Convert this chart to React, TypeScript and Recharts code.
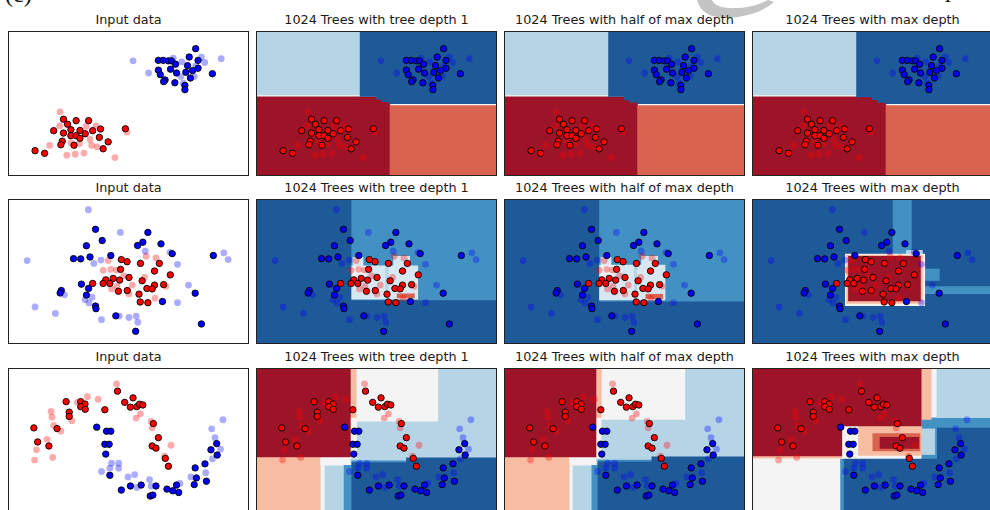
import React from "react";
import { ScatterChart, Scatter, XAxis, YAxis, ReferenceArea } from "recharts";

type Pt = [number, number];
// x1, x2, y1, y2, predicted probability of the red class
type Region = [number, number, number, number, number];

const columnTitles = [
  "Input data",
  "1024 Trees with tree depth 1",
  "1024 Trees with half of max depth",
  "1024 Trees with max depth",
];

// ---- blobs ----
const blobsRedTrain: Pt[] = [
  [22.8, 23.4], [28.1, 22.8], [33.3, 22.8], [24.5, 21.3], [18.7, 18.6], [25.9, 19.0],
  [22.8, 17.6], [29.7, 18.7], [31.9, 17.3], [35.0, 18.6], [38.3, 19.3], [48.7, 19.4],
  [25.9, 16.5], [28.1, 16.5], [29.7, 15.4], [37.8, 15.8], [22.3, 14.2], [21.7, 12.7],
  [27.2, 12.5], [41.5, 13.9], [39.4, 11.0], [10.9, 10.2], [14.9, 9.1],
];
const blobsRedTest: Pt[] = [
  [21.4, 26.5], [21.2, 20.6], [17.0, 12.4], [24.2, 8.3], [27.7, 8.7], [31.4, 9.2],
  [36.4, 20.6], [32.2, 20.4], [36.9, 11.8], [34.6, 12.4], [44.3, 7.3], [49.4, 18.0],
  [29.5, 13.2], [33.9, 14.9], [25.9, 13.5],
];
const blobsBlueTrain: Pt[] = [
  [78.1, 53.0], [75.4, 49.5], [79.1, 48.1], [62.5, 48.1], [64.5, 48.1], [66.7, 47.9],
  [68.0, 47.9], [69.7, 46.5], [67.6, 44.4], [62.5, 44.0], [63.3, 42.1], [65.3, 39.9],
  [64.7, 39.2], [70.1, 42.8], [69.4, 38.7], [74.7, 45.9], [74.0, 43.1], [76.8, 43.8],
  [79.1, 44.8], [75.9, 40.7], [85.1, 42.5], [73.6, 37.6], [73.6, 35.8],
];
const blobsBlueTest: Pt[] = [
  [51.9, 47.9], [58.4, 42.8], [68.7, 49.0], [72.3, 47.5], [80.5, 49.5], [81.9, 47.2],
  [88.8, 48.8], [78.1, 45.8], [72.9, 38.5], [71.9, 41.3], [77.5, 41.3],
];

// ---- circles ----
const circlesRedTrain: Pt[] = [
  [47.0, 35.0], [49.4, 34.1], [55.0, 33.4], [62.9, 33.4], [46.7, 30.9], [60.9, 30.2],
  [67.5, 28.6], [50.2, 27.5], [43.6, 27.1], [46.3, 26.4], [40.5, 26.5], [35.0, 25.0],
  [39.4, 25.0], [42.2, 25.0], [55.7, 26.1], [64.7, 24.5], [60.9, 24.3], [57.7, 22.9],
  [59.9, 22.7], [45.8, 21.7], [49.5, 22.0], [54.4, 20.5], [54.9, 17.2], [58.1, 16.9],
];
const circlesRedTest: Pt[] = [
  [41.5, 34.6], [57.4, 36.4], [61.5, 35.7], [39.4, 30.5], [42.6, 30.9], [45.0, 30.6],
  [48.0, 28.2], [56.7, 27.5], [65.7, 23.8], [45.2, 23.8], [50.2, 20.6], [61.1, 18.8],
  [51.6, 24.3], [42.9, 22.7],
];
const circlesBlueTrain: Pt[] = [
  [36.2, 47.7], [58.1, 46.4], [39.0, 43.0], [56.0, 42.3], [63.6, 41.6], [53.8, 40.9],
  [32.4, 40.8], [33.9, 36.1], [27.0, 35.4], [30.0, 35.3], [42.6, 36.7], [68.3, 37.5],
  [85.5, 36.7], [30.3, 24.7], [33.3, 22.9], [21.9, 22.0], [21.4, 21.0], [32.4, 20.1],
  [36.2, 15.5], [36.4, 14.4], [44.7, 11.4], [64.2, 17.4], [77.9, 20.9], [80.5, 8.0],
  [53.0, 4.9],
];
const circlesBlueTest: Pt[] = [
  [33.2, 55.9], [46.6, 46.4], [57.0, 38.5], [67.4, 38.0], [70.5, 33.0], [89.9, 37.8],
  [91.7, 35.0], [7.6, 34.6], [38.5, 34.8], [35.5, 33.4], [75.1, 24.3], [70.5, 16.9],
  [23.2, 20.2], [31.8, 18.1], [33.5, 16.8], [34.7, 19.2], [10.9, 15.1], [19.4, 12.4],
  [38.7, 9.8], [50.2, 10.7], [53.2, 11.3], [53.9, 8.7], [46.1, 11.3],
];

// ---- moons ----
const moonsRedTrain: Pt[] = [
  [10.4, 35.3], [12.0, 29.4], [16.7, 27.7], [20.1, 35.0], [23.9, 46.3], [25.2, 41.9],
  [25.2, 40.1], [30.0, 46.3], [31.8, 45.3], [30.0, 44.2], [31.9, 43.1], [40.1, 42.9],
  [45.4, 50.7], [48.4, 46.0], [50.8, 44.0], [51.9, 47.9], [53.5, 44.2], [54.6, 45.2],
  [56.0, 44.9], [60.4, 37.1], [62.5, 31.2], [59.9, 27.7], [61.5, 26.8], [65.4, 22.5],
  [66.7, 19.2],
];
const moonsRedTest: Pt[] = [
  [45.0, 53.8], [32.8, 48.4], [37.3, 47.3], [28.6, 46.0], [17.6, 42.2], [18.0, 39.8],
  [26.3, 38.3], [18.7, 36.3], [21.7, 33.9], [15.9, 30.5], [11.5, 26.1], [18.3, 22.9],
  [10.7, 21.8], [53.2, 39.4], [55.0, 41.2], [59.5, 38.0], [59.9, 35.3], [67.8, 28.0],
  [65.1, 23.4],
];
const moonsBlueTrain: Pt[] = [
  [36.7, 35.6], [40.8, 33.9], [42.6, 33.9], [40.1, 28.4], [41.9, 28.4], [40.5, 24.3],
  [42.2, 15.4], [47.0, 9.2], [50.8, 10.9], [55.3, 11.3], [59.1, 6.7], [60.2, 7.1],
  [61.5, 10.9], [66.1, 9.6], [68.5, 8.9], [71.0, 8.2], [70.1, 11.3], [77.5, 11.5],
  [78.4, 14.3], [77.9, 18.5], [82.0, 20.2], [82.6, 12.9], [84.5, 26.1], [87.1, 23.9],
  [86.9, 28.7],
];
const moonsBlueTest: Pt[] = [
  [89.5, 38.7], [84.8, 34.9], [86.2, 31.2], [88.5, 26.4], [85.1, 22.3], [82.3, 16.5],
  [76.1, 14.7], [71.5, 12.0], [59.5, 10.9], [53.5, 10.3], [49.8, 14.7], [52.6, 15.7],
  [42.9, 20.5], [45.9, 20.5], [42.2, 18.4], [45.9, 18.4], [38.7, 17.0], [58.8, 13.6],
];

// ---- decision regions (drawn in order, later on top) ----
const blobsDepth1Regions: Region[] = [
  [0, 100, 0, 60, 0.55],
  [0, 55.7, 0, 32.9, 0.95],
  [55.5, 100, 0, 29.3, 0.8],
  [0, 43.5, 33.5, 60, 0.35],
  [43, 100, 32.8, 60, 0.05],
  [50, 100, 31.6, 60, 0.05],
  [52.2, 100, 30.6, 60, 0.05],
  [55, 100, 29.8, 60, 0.05],
];
const blobsHalfRegions: Region[] = [
  [0, 100, 0, 60, 0.55],
  [0, 55.6, 0, 32.9, 0.95],
  [55.4, 100, 0, 29.3, 0.8],
  [0, 43.5, 33.5, 60, 0.35],
  [43.2, 100, 32.8, 60, 0.05],
  [49.8, 100, 31.4, 60, 0.05],
  [52, 100, 30.4, 60, 0.05],
  [55.3, 100, 29.8, 60, 0.05],
];
const blobsMaxRegions: Region[] = [
  [0, 100, 0, 60, 0.55],
  [0, 55.7, 0, 32.9, 0.95],
  [55.5, 100, 0, 29.3, 0.8],
  [0, 43.5, 33.5, 60, 0.35],
  [43.2, 100, 32.6, 60, 0.05],
  [49.8, 100, 31.5, 60, 0.05],
  [51.9, 100, 30.3, 60, 0.05],
  [55.2, 100, 29.8, 60, 0.05],
];

const circlesDepth1Regions: Region[] = [
  [0, 100, 0, 60, 0.05],
  [39.5, 100, 17.9, 60, 0.15],
  [39.5, 67.4, 18.3, 32.5, 0.47],
  [40, 44.5, 32, 36, 0.47],
  [57, 64, 32, 36.5, 0.47],
  [40, 45.5, 27, 32.3, 0.55],
  [53.6, 55, 18.3, 32, 0.35],
  [58.5, 66, 18.8, 20.8, 0.8],
];
const circlesHalfRegions: Region[] = [
  [0, 100, 0, 60, 0.05],
  [39.4, 100, 17.4, 60, 0.15],
  [39.4, 67.1, 17.9, 32.8, 0.47],
  [40, 44.5, 32.3, 36, 0.47],
  [57, 64, 32.3, 36.5, 0.47],
  [40, 45.5, 27, 32.6, 0.55],
  [54, 55.3, 17.9, 32, 0.35],
  [58.8, 66.2, 18.5, 20.6, 0.8],
];
const circlesMaxRegions: Region[] = [
  [0, 100, 0, 60, 0.05],
  [58.5, 66.4, 36, 60, 0.15],
  [69.8, 100, 20.6, 23.8, 0.15],
  [69.8, 78.1, 26.1, 31.2, 0.15],
  [64, 71, 33.5, 39, 0.35],
  [38.5, 72, 15.5, 37.5, 0.55],
  [39, 71, 16.5, 37, 0.7],
  [39.8, 70.2, 17.5, 36.5, 0.95],
];

const moonsDepth1Regions: Region[] = [
  [0, 100, 0, 60, 0.35],
  [41.5, 75.8, 38, 60, 0.55],
  [39, 41.8, 22.5, 40, 0.55],
  [39, 41.6, 39.5, 60, 0.7],
  [0, 26.8, 0, 23.2, 0.7],
  [26.6, 39.2, 19.5, 23.2, 0.55],
  [26.6, 28.3, 0, 23, 0.55],
  [0, 39.2, 23, 60, 0.95],
  [36.3, 39.7, 0, 19.7, 0.15],
  [39.5, 62.8, 20.5, 21.6, 0.15],
  [39.5, 100, 0, 20.9, 0.05],
  [62.4, 100, 20.5, 22.9, 0.05],
];
const moonsHalfRegions: Region[] = [
  [0, 100, 0, 60, 0.35],
  [40.2, 75.4, 38.7, 60, 0.55],
  [38, 40.4, 22.5, 40, 0.55],
  [38, 40.4, 39.5, 60, 0.7],
  [0, 27.2, 0, 23.2, 0.7],
  [27, 38.2, 19.5, 23.2, 0.55],
  [27, 28.3, 0, 23, 0.55],
  [0, 38.2, 23, 60, 0.95],
  [36.2, 38.9, 0, 19.7, 0.15],
  [38.7, 61.7, 20.8, 21.9, 0.15],
  [38.7, 100, 0, 21.2, 0.05],
  [61.3, 100, 20.8, 23.3, 0.05],
];
const moonsMaxRegions: Region[] = [
  [0, 100, 0, 60, 0.55],
  [70.5, 100, 22, 39.6, 0.15],
  [76.8, 100, 39.4, 60, 0.35],
  [70.5, 76.2, 24, 35, 0.35],
  [77, 100, 0, 35.3, 0.05],
  [70.3, 74.7, 38.7, 60, 0.7],
  [0, 37.3, 22.5, 24, 0.7],
  [44, 70.6, 23.6, 36.2, 0.7],
  [50, 70, 25.5, 33, 0.8],
  [53, 69.5, 26.5, 31.5, 0.95],
  [0, 70.5, 36, 60, 0.95],
  [0, 37.3, 23.4, 36.2, 0.95],
  [36.5, 38.2, 0, 22.3, 0.15],
  [38, 100, 0, 22.3, 0.05],
];

const rows = [
  { red: blobsRedTrain, redTest: blobsRedTest, blue: blobsBlueTrain, blueTest: blobsBlueTest,
    regions: [null, blobsDepth1Regions, blobsHalfRegions, blobsMaxRegions] },
  { red: circlesRedTrain, redTest: circlesRedTest, blue: circlesBlueTrain, blueTest: circlesBlueTest,
    regions: [null, circlesDepth1Regions, circlesHalfRegions, circlesMaxRegions] },
  { red: moonsRedTrain, redTest: moonsRedTest, blue: moonsBlueTrain, blueTest: moonsBlueTest,
    regions: [null, moonsDepth1Regions, moonsHalfRegions, moonsMaxRegions] },
];

const PANEL_W = 241;
const PANEL_H = 145;
const colLeft = [8, 256, 504, 752];
const rowTop = [31, 199, 368];

// RdBu-like contour fill
function regionColor(p: number) {
  if (p >= 0.9) return "#9d1428";
  if (p >= 0.75) return "#d8644f";
  if (p >= 0.62) return "#f7bda2";
  if (p >= 0.52) return "#f4f4f4";
  if (p >= 0.45) return "#d8e8f2";
  if (p >= 0.3) return "#b5d5e7";
  if (p >= 0.12) return "#4391c2";
  return "#1f5a98";
}

const toRows = (pts: Pt[]) => pts.map(([x, y]) => ({ x, y }));

const trainDot = (fill: string) => (p: any) => (
  <circle cx={p.cx} cy={p.cy} r={3.2} fill={fill} stroke="#000" strokeWidth={0.9} />
);
const testDot = (fill: string) => (p: any) => (
  <circle cx={p.cx} cy={p.cy} r={3.4} fill={fill} fillOpacity={0.33} stroke="none" />
);

function Panel({ row, col }: { row: number; col: number }) {
  const d = rows[row];
  const regions = d.regions[col] || [];
  const left = colLeft[col];
  const top = rowTop[row];
  return (
    <>
      <div
        style={{
          position: "absolute",
          left,
          top: top - 19,
          width: PANEL_W,
          textAlign: "center",
          fontFamily: "'DejaVu Sans', sans-serif",
          fontSize: 12.8,
          lineHeight: "15px",
          color: "#1a1a1a",
          whiteSpace: "nowrap",
        }}
      >
        {columnTitles[col]}
      </div>
      <div
        style={{
          position: "absolute",
          left,
          top,
          width: PANEL_W,
          height: PANEL_H,
          border: "1px solid #222",
          boxSizing: "border-box",
          overflow: "hidden",
          background: "#fff",
        }}
      >
        <ScatterChart width={PANEL_W - 2} height={PANEL_H - 2} margin={{ top: 0, right: 0, bottom: 0, left: 0 }}>
          <XAxis type="number" dataKey="x" domain={[0, 100]} hide allowDataOverflow />
          <YAxis type="number" dataKey="y" domain={[0, 60]} hide allowDataOverflow />
          {regions.map((r, i) => (
            <ReferenceArea
              key={i}
              x1={r[0]}
              x2={r[1]}
              y1={r[2]}
              y2={r[3]}
              fill={regionColor(r[4])}
              fillOpacity={1}
              stroke="none"
              ifOverflow="visible"
            />
          ))}
          <Scatter data={toRows(d.redTest)} shape={testDot("#ff0000")} isAnimationActive={false} />
          <Scatter data={toRows(d.blueTest)} shape={testDot("#0000ff")} isAnimationActive={false} />
          <Scatter data={toRows(d.red)} shape={trainDot("#ff0000")} isAnimationActive={false} />
          <Scatter data={toRows(d.blue)} shape={trainDot("#0000ff")} isAnimationActive={false} />
        </ScatterChart>
      </div>
    </>
  );
}

export default function App() {
  return (
    <div
      style={{
        position: "fixed",
        left: 0,
        top: 0,
        width: 990,
        height: 510,
        background: "#fff",
        overflow: "hidden",
      }}
    >
      <div style={{ position: "absolute", left: 5, top: -18, fontFamily: "'Liberation Serif', serif", fontSize: 24, lineHeight: "24px", color: "#111" }}>
        (c)
      </div>
      <div style={{ position: "absolute", left: 945, top: -23, fontFamily: "'Liberation Serif', serif", fontSize: 24, lineHeight: "24px", color: "#111" }}>
        p
      </div>
      <svg style={{ position: "absolute", left: 0, top: 0 }} width={990} height={30}>
        <path d="M 697 0 Q 703 22 738 17 Q 762 13 774 2 L 768 0 Q 752 8 736 8 Q 716 9 712 0 Z" fill="#c4c4c4" />
      </svg>
      {[0, 1, 2].map((r) => [0, 1, 2, 3].map((c) => <Panel key={`${r}-${c}`} row={r} col={c} />))}
    </div>
  );
}
